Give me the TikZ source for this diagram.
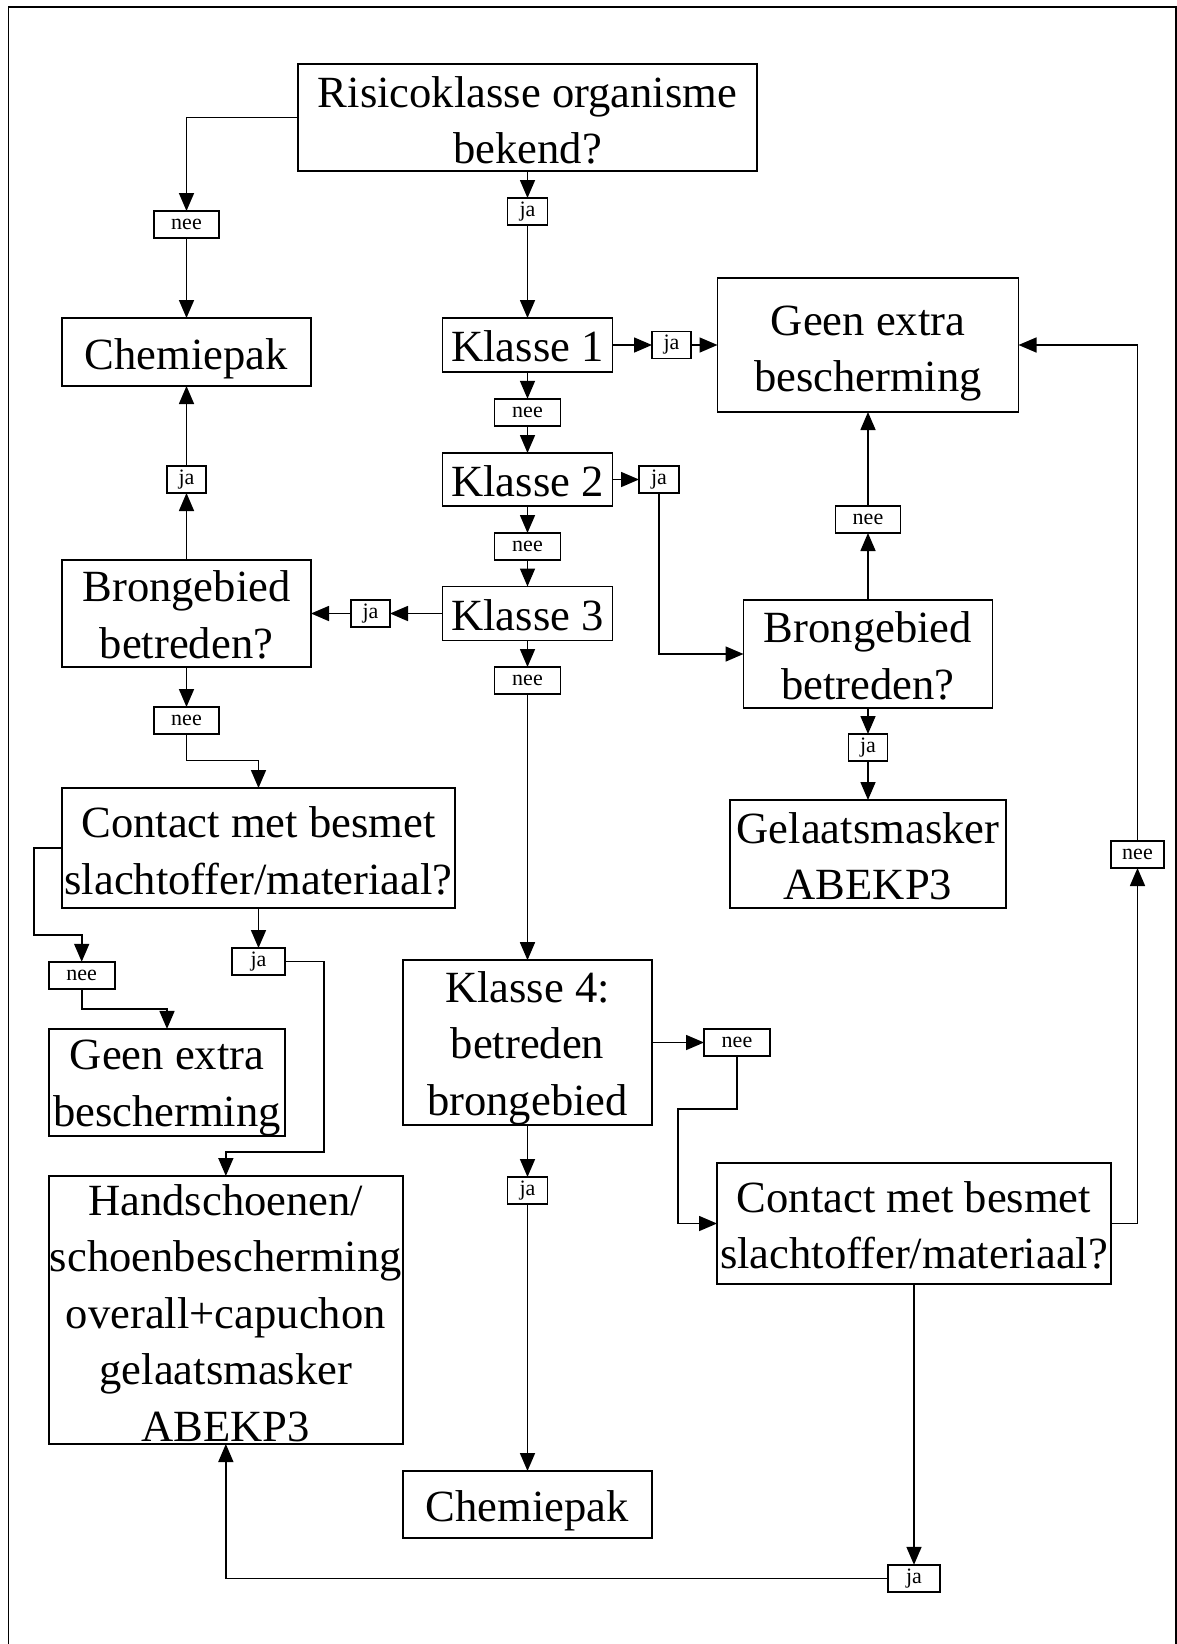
\documentclass[tikz,border=0pt]{standalone}
\usepackage{fontspec}
\setmainfont{Liberation Serif}
\usetikzlibrary{arrows.meta}
\newcommand{\strutx}[1]{\rule{0pt}{#1pt}}
\begin{document}
\begin{tikzpicture}[x=1pt,y=-1pt,
  box/.style={draw, line width=1.8pt, inner sep=0pt, outer sep=0pt, align=center,
    font=\fontsize{44.6}{56.5}\selectfont},
  lab/.style={draw, line width=1.6pt, inner sep=0pt, outer sep=0pt, minimum height=27pt,
    font=\fontsize{22}{24}\selectfont},
  conn/.style={line width=1.6pt, -{Triangle[length=18pt,width=15pt]}},
]
\useasboundingbox[fill=white] (0,0) rectangle (1177,1644);
\draw[line width=1.6pt] (8.3,1644) -- (8.3,6.7) -- (1175.7,6.7) -- (1175.7,1644);

% main boxes
\node[box, minimum width=459pt, minimum height=107pt] (risk) at (527.5,117.5) {\strutx{36.5}Risicoklasse organisme\\bekend?};
\node[box, minimum width=249pt, minimum height=68pt] (chemA) at (186.5,352) {\strutx{43.5}Chemiepak};
\node[box, minimum width=170pt, minimum height=54pt] (k1) at (527.5,345) {\strutx{34}Klasse 1};
\node[box, minimum width=301pt, minimum height=134pt] (geenA) at (868,345) {\strutx{47}Geen extra\\bescherming};
\node[box, minimum width=170pt, minimum height=53pt] (k2) at (527.5,479.5) {\strutx{35}Klasse 2};
\node[box, minimum width=170pt, minimum height=54pt] (k3) at (527.5,613.5) {\strutx{35}Klasse 3};
\node[box, minimum width=249pt, minimum height=107pt] (bronL) at (186.5,613.5) {\strutx{34}Brongebied\\betreden?};
\node[box, minimum width=249pt, minimum height=108pt] (bronR) at (868,654) {\strutx{35}Brongebied\\betreden?};
\node[box, minimum width=276pt, minimum height=108pt] (gelaat) at (868,854) {\strutx{35}Gelaatsmasker\\ABEKP3};
\node[box, minimum width=393pt, minimum height=120pt] (contactL) at (258.5,848) {\strutx{36.5}Contact met besmet\\slachtoffer/materiaal?};
\node[box, minimum width=236.6pt, minimum height=107pt] (geenB) at (167,1082.5) {\strutx{41}Geen extra\\bescherming};
\node[box, minimum width=354.3pt, minimum height=268pt] (hand) at (225.85,1310) {\strutx{36.5}Handschoenen/\\schoenbescherming\\overall+capuchon\\gelaatsmasker\\ABEKP3};
\node[box, minimum width=249pt, minimum height=161pt] (k4) at (527.5,1042.5) {\strutx{42}Klasse 4:\\betreden\\brongebied};
\node[box, minimum width=249pt, minimum height=67pt] (chemB) at (527.5,1504.5) {\strutx{44}Chemiepak};
\node[box, minimum width=394pt, minimum height=121pt] (contactR) at (914,1223.5) {\strutx{35}Contact met besmet\\slachtoffer/materiaal?};

% label boxes
\node[lab, minimum width=65pt] (neeA) at (186.5,224.5) {nee};
\node[lab, minimum width=40pt] (jaA) at (527.5,211.5) {ja};
\node[lab, minimum width=39pt] (ja1) at (671.5,345) {ja};
\node[lab, minimum width=66pt] (nee1) at (527.5,412.3) {nee};
\node[lab, minimum width=40pt] (ja2) at (659,479.5) {ja};
\node[lab, minimum width=66pt] (nee2) at (527.5,546.5) {nee};
\node[lab, minimum width=39pt] (ja3) at (370.5,613.5) {ja};
\node[lab, minimum width=66pt] (nee3) at (527.5,680.5) {nee};
\node[lab, minimum width=39pt] (jaB) at (186.5,479.5) {ja};
\node[lab, minimum width=65pt] (neeR) at (868,519.5) {nee};
\node[lab, minimum width=65pt] (neeL) at (186.5,720.5) {nee};
\node[lab, minimum width=39pt] (jaR) at (868,747.5) {ja};
\node[lab, minimum width=53pt] (neeFR) at (1137.5,854.5) {nee};
\node[lab, minimum width=66pt] (neeC) at (81.7,975.3) {nee};
\node[lab, minimum width=53pt] (jaC) at (258.5,961.5) {ja};
\node[lab, minimum width=66pt] (neeK4) at (737,1042.5) {nee};
\node[lab, minimum width=40pt] (jaK4) at (527.5,1190.5) {ja};
\node[lab, minimum width=52pt] (jaBot) at (914,1578.3) {ja};

% bend coordinates
\coordinate (bendL) at (186.5,760.6);
\coordinate (cA) at (34,935);
\coordinate (cB) at (81.7,1008.7);
\coordinate (cC) at (324,1152);
\coordinate (cD) at (677.7,1108.7);

% connectors
\draw[conn] (risk.west) -| (neeA.north);
\draw[conn] (neeA.south) -- (chemA.north);
\draw[conn] (risk.south) -- (jaA.north);
\draw[conn] (jaA.south) -- (k1.north);
\draw[conn] (k1.east) -- (ja1.west);
\draw[conn] (ja1.east) -- (geenA.west);
\draw[conn] (k1.south) -- (nee1.north);
\draw[conn] (nee1.south) -- (k2.north);
\draw[conn] (k2.east) -- (ja2.west);
\draw[conn] (ja2.south) |- (bronR.west);
\draw[conn] (k2.south) -- (nee2.north);
\draw[conn] (nee2.south) -- (k3.north);
\draw[conn] (k3.west) -- (ja3.east);
\draw[conn] (ja3.west) -- (bronL.east);
\draw[conn] (k3.south) -- (nee3.north);
\draw[conn] (nee3.south) -- (k4.north);
\draw[conn] (bronL.north) -- (jaB.south);
\draw[conn] (jaB.north) -- (chemA.south);
\draw[conn] (bronL.south) -- (neeL.north);
\draw[conn] (neeL.south) -- (bendL) -| (contactL.north);
\draw[conn] (bronR.north) -- (neeR.south);
\draw[conn] (neeR.north) -- (geenA.south);
\draw[conn] (bronR.south) -- (jaR.north);
\draw[conn] (jaR.south) -- (gelaat.north);
\draw[conn] (contactL.west) -| (cA) -| (neeC.north);
\draw[conn] (neeC.south) -- (cB) -| (geenB.north);
\draw[conn] (contactL.south) -- (jaC.north);
\draw[conn] (jaC.east) -| (cC) -| (hand.north);
\draw[conn] (k4.east) -- (neeK4.west);
\draw[conn] (neeK4.south) |- (cD) |- (contactR.west);
\draw[conn] (contactR.east) -| (neeFR.south);
\draw[conn] (neeFR.north) |- (geenA.east);
\draw[conn] (contactR.south) -- (jaBot.north);
\draw[conn] (jaBot.west) -| (hand.south);
\draw[conn] (k4.south) -- (jaK4.north);
\draw[conn] (jaK4.south) -- (chemB.north);
\end{tikzpicture}
\end{document}
